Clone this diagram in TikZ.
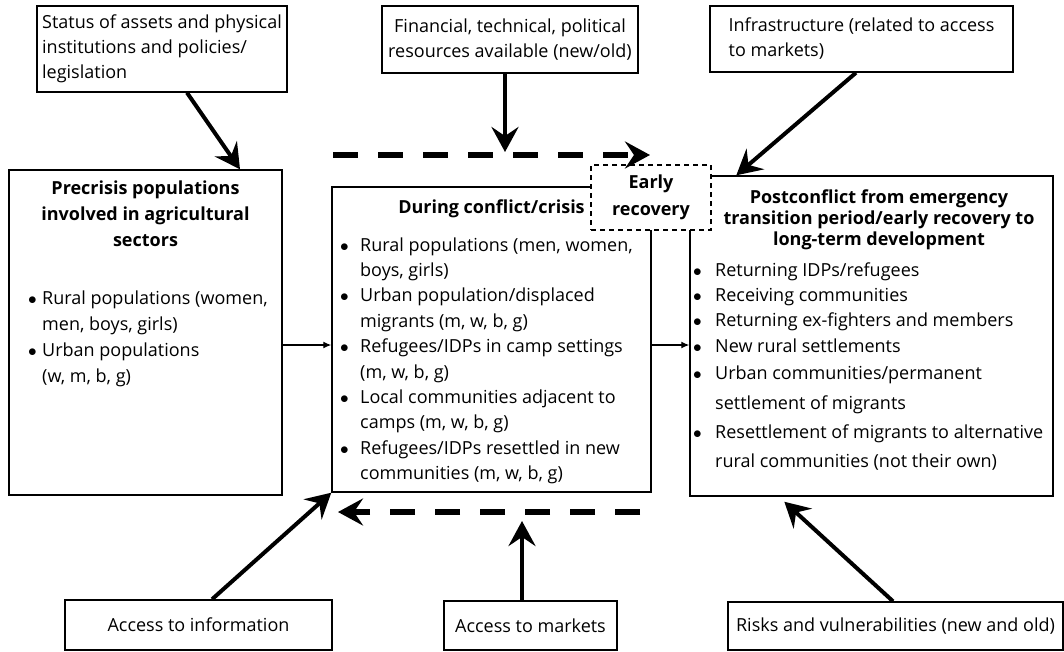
\documentclass[tikz,border=0pt]{standalone}
\usepackage{fontspec}
\setmainfont{Open Sans}
\usetikzlibrary{arrows.meta,positioning}

\newcommand{\bul}[1]{\makebox[#1][l]{$\bullet$}}
\newcommand{\ind}[1]{\hspace*{#1}}

\begin{document}
\begin{tikzpicture}[x=1pt,y=-1pt,
  box/.style={draw, line width=1.4pt, inner sep=0pt},
  boxtxt/.style={box, inner xsep=3pt, font=\fontsize{18}{25}\selectfont},
  txt/.style={inner sep=0pt, anchor=base west, align=left},
  head/.style={inner sep=0pt, anchor=base, align=center},
  bigarrow/.style={line width=4pt, -{Stealth[length=25pt, width=27pt, inset=9pt]}},
  dasharrow/.style={line width=5.5pt, dash pattern=on 25pt off 20pt, -{Stealth[length=25pt, width=27pt, inset=9pt]}},
  thinarrow/.style={line width=1.3pt, -{Latex[length=8pt, width=7pt]}}]

\useasboundingbox (0,0) rectangle (1064,651);

% factors on top
\node[boxtxt, align=left, minimum width=250pt, minimum height=86pt] (status) at (162,49) {Status of assets and physical\\institutions and policies/\\legislation};
\node[boxtxt, align=center, minimum width=256pt, minimum height=67pt] (fin) at (510,39.5) {Financial, technical, political\\resources available (new/old)};
\node[boxtxt, align=left, minimum width=303pt, minimum height=66pt] (infra) at (861.5,39) {Infrastructure (related to access\\to markets)};

% the three phases
\node[box, minimum width=273pt, minimum height=325pt] (pre) at (145.5,332.5) {};
\node[box, minimum width=319pt, minimum height=305pt] (mid) at (491.5,339.5) {};
\node[box, minimum width=363pt, minimum height=320pt] (post) at (871.5,336) {};
\node[box, dashed, line width=1.1pt, dash pattern=on 5pt off 4pt, fill=white, align=center, font=\fontsize{18}{27}\selectfont\bfseries, minimum width=120pt, minimum height=65pt] (early) at (651,197.5) {Early\\recovery};

\node[head, font=\fontsize{18}{26}\selectfont\bfseries] (prehead) at (145.5,246) {Precrisis populations\\involved in agricultural\\sectors};
\node[txt, font=\fontsize{18}{26}\selectfont] (prelist) at (28,382) {\bul{14pt}Rural populations (women,\\ \ind{14pt}men, boys, girls)\\ \bul{14pt}Urban populations\\ \ind{14pt}(w, m, b, g)};

\node[head, font=\fontsize{18}{26}\selectfont\bfseries] (midhead) at (491.5,213) {During conflict/crisis};
\node[txt, font=\fontsize{18}{25.4}\selectfont] (midlist) at (340,479.6) {\bul{20pt}Rural populations (men, women,\\ \ind{20pt}boys, girls)\\ \bul{20pt}Urban population/displaced\\ \ind{20pt}migrants (m, w, b, g)\\ \bul{20pt}Refugees/IDPs in camp settings\\ \ind{20pt}(m, w, b, g)\\ \bul{20pt}Local communities adjacent to\\ \ind{20pt}camps (m, w, b, g)\\ \bul{20pt}Refugees/IDPs resettled in new\\ \ind{20pt}communities (m, w, b, g)};

\node[head, font=\fontsize{18}{21}\selectfont\bfseries] (posthead) at (879,245) {Postconflict from emergency\\transition period/early recovery to\\long-term development};
\node[txt, font=\fontsize{18}{25.3}\selectfont] (postlist) at (693,467) {\bul{22pt}Returning IDPs/refugees\\ \bul{22pt}Receiving communities\\ \bul{22pt}Returning ex-fighters and members\\ \bul{22pt}New rural settlements\\[1.7pt] \bul{22pt}Urban communities/permanent\\[4.7pt] \ind{22pt}settlement of migrants\\[3.7pt] \bul{22pt}Resettlement of migrants to alternative\\[3.7pt] \ind{22pt}rural communities (not their own)};

% factors below
\node[boxtxt, minimum width=267pt, minimum height=50pt] (info) at (198.5,625) {Access to information};
\node[boxtxt, minimum width=173pt, minimum height=49pt] (markets) at (530.5,625.5) {Access to markets};
\node[boxtxt, minimum width=335pt, minimum height=48pt] (risks) at (895.5,626) {Risks and vulnerabilities (new and old)};

\coordinate (flowy) at (0,345);
\coordinate (topL) at (333,155);
\coordinate (topR) at (650,155);
\coordinate (fintip) at (505,152);
\coordinate (botR) at (640,512);
\coordinate (botL) at (338,512);
\coordinate (mktip) at (522,521);

\draw[dasharrow] (topL) -- (topR);
\draw[dasharrow] (botR) -- (botL);

\draw[bigarrow] ([xshift=25pt]status.south) -- ([xshift=94.5pt]pre.north);
\draw[bigarrow] ([xshift=-5pt]fin.south) -- (fintip);
\draw[bigarrow] ([xshift=-5.5pt]infra.south) -- ([xshift=47pt]post.north west);
\draw[bigarrow] ([xshift=13.5pt]info.north) -- (mid.south west);
\draw[bigarrow] ([xshift=-8.5pt]markets.north) -- (mktip);
\draw[bigarrow] ([xshift=-2.5pt]risks.north) -- ([xshift=95pt, yshift=-5pt]post.south west);

\draw[thinarrow] (pre.east |- flowy) -- (mid.west |- flowy);
\draw[thinarrow] (mid.east |- flowy) -- (post.west |- flowy);

\end{tikzpicture}
\end{document}
